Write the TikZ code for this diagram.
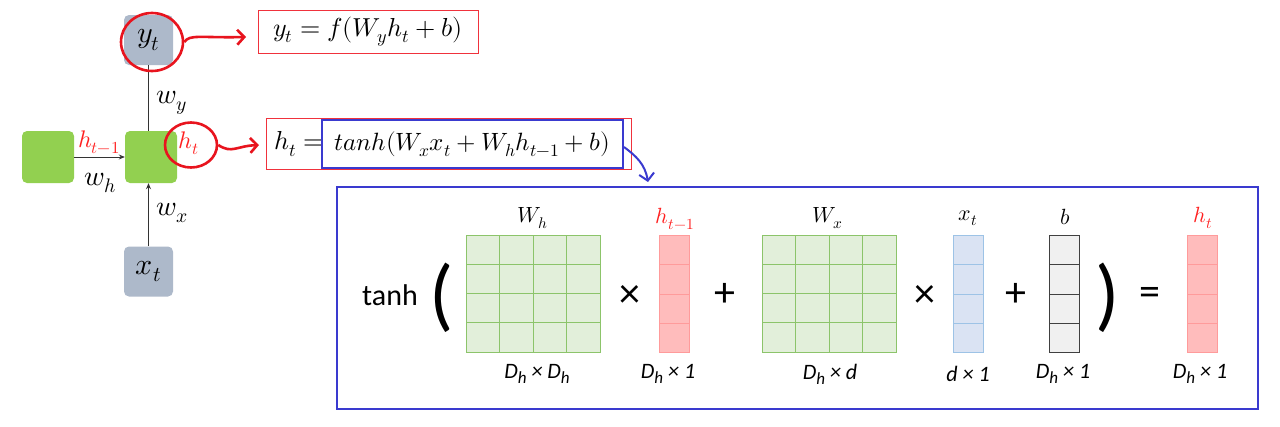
\documentclass[tikz,border=0pt]{standalone}
\usepackage{fontspec}
\usepackage{unicode-math}
\setmathfont{Latin Modern Math}
\newfontfamily\calfont{Carlito}
\usetikzlibrary{arrows.meta,calc,shapes.geometric}
\definecolor{nodegreen}{HTML}{92D050}
\definecolor{nodegray}{HTML}{ADB9CA}
\definecolor{matfill}{HTML}{E2EFDA}
\definecolor{matline}{HTML}{8CC46A}
\definecolor{redfill}{HTML}{FFBCBC}
\definecolor{redline}{HTML}{FF9B9B}
\definecolor{bluefill}{HTML}{DAE3F3}
\definecolor{blueline}{HTML}{9DC3E6}
\definecolor{grayfill}{HTML}{F0F0F0}
\definecolor{grayline}{HTML}{404040}
\definecolor{penred}{HTML}{E8141E}
\definecolor{penblue}{HTML}{3A3ACF}
\definecolor{boxred}{HTML}{F0323C}
\definecolor{labred}{HTML}{FF2020}
\newcommand\dimsub[1]{\raisebox{-0.45ex}{\fontsize{17}{17}\selectfont #1}}
\newcommand\dimlab[1]{{\calfont\itshape\fontsize{22}{24}\selectfont #1}}
\tikzset{
  px/.style={x=1pt,y=-1pt},
  gnode/.style={fill=nodegreen, rounded corners=5pt, minimum width=52pt, minimum height=52pt, inner sep=0pt},
  xnode/.style={fill=nodegray, rounded corners=5pt, minimum width=49pt, minimum height=50pt, inner sep=0pt, font=\fontsize{30}{34}\selectfont},
  lab/.style={font=\fontsize{28}{32}\selectfont, inner sep=0pt},
  wire/.style={draw=black!80, line width=0.9pt},
  tip/.style={-{Stealth[length=6pt,width=5pt]}},
  penc/.style={draw=penred, line width=2.6pt, ellipse, inner sep=0pt},
  pen/.style={line width=2.6pt, -{Straight Barb[length=7pt,width=15pt]}},
  grid4/.style 2 args={fill=#1, draw=#2, line width=1pt, inner sep=0pt, outer sep=0pt,
    path picture={
      \foreach \k in {1,2,3}{
        \draw[#2, line width=1pt] ($(path picture bounding box.north west)!\k/4!(path picture bounding box.south west)$) -- ($(path picture bounding box.north east)!\k/4!(path picture bounding box.south east)$);
        \draw[#2, line width=1pt] ($(path picture bounding box.north west)!\k/4!(path picture bounding box.north east)$) -- ($(path picture bounding box.south west)!\k/4!(path picture bounding box.south east)$);
      }}},
  vec4/.style 2 args={fill=#1, draw=#2, line width=1pt, inner sep=0pt, outer sep=0pt, minimum width=30pt, minimum height=117pt,
    path picture={
      \foreach \k in {1,2,3}{
        \draw[#2, line width=1pt] ($(path picture bounding box.north west)!\k/4!(path picture bounding box.south west)$) -- ($(path picture bounding box.north east)!\k/4!(path picture bounding box.south east)$);
      }}},
  mlab/.style={font=\fontsize{22}{24}\selectfont, inner sep=0pt},
  op/.style={font=\calfont\fontsize{30}{32}\selectfont, inner sep=0pt},
  sym/.style={font=\calfont\fontsize{42}{44}\selectfont, inner sep=0pt},
  bigp/.style={font=\calfont\fontsize{80}{82}\selectfont, inner sep=0pt},
  fbox/.style={draw=boxred, line width=1pt, inner sep=0pt, font=\fontsize{26}{30}\selectfont},
}
\begin{document}
\begin{tikzpicture}[px]
\useasboundingbox (0,0) rectangle (1280,426);
% left RNN diagram
\node[gnode] (hprev) at (48,157) {};
\node[gnode] (hcur) at (151,157) {};
\node[xnode] (y) at (148.5,40) {$y_t$};
\node[xnode] (x) at (148.5,271.5) {$x_t$};
\draw[wire,tip] (hprev.east) -- (hcur.west);
\draw[wire] (y.south) -- (y.south |- hcur.north);
\draw[wire,tip] (x.north) -- (x.north |- hcur.south);
\node[lab, text=labred, font=\fontsize{24}{28}\selectfont] (lhp) at (99,142) {$h_{t-1}$};
\node[lab] (lwh) at (100,183) {$w_h$};
\node[lab] (lwy) at (172,103) {$w_y$};
\node[lab] (lwx) at (172,213) {$w_x$};
\node[lab, text=labred, font=\fontsize{24}{28}\selectfont] (lht) at (189,143) {$h_t$};
\node[penc, minimum width=62pt, minimum height=58pt] (cy) at (152,42) {};
\node[penc, minimum width=52pt, minimum height=45pt] (ch) at (191,145) {};
% formulas
\node[fbox, minimum width=220pt, minimum height=43pt] (f1) at (368,31.5) {$y_t = f(W_y h_t + b)$};
\node[fbox, minimum width=365pt, minimum height=51pt] (f2) at (448.5,143.5) {};
\node[anchor=west, inner sep=0pt, font=\fontsize{26}{30}\selectfont] (f2l) at (274,144) {$h_t =$};
\node[draw=penblue, line width=2pt, inner sep=0pt, minimum width=301pt, minimum height=48pt, font=\fontsize{25}{30}\selectfont] (f2r) at (472.5,144) {$tanh(W_x x_t + W_h h_{t-1} + b)$};
% pen arrows
\coordinate (a1) at (246,37);
\coordinate (a2) at (259,145);
\coordinate (a3) at (648,182);
\draw[pen, penred] (cy.east) .. controls (190,34) and (200,38) .. (a1);
\draw[pen, penred] (ch.east) .. controls (232,154) and (236,146) .. (a2);
\draw[line width=2pt, penblue, -{Straight Barb[length=7pt,width=15pt]}] ([yshift=-3pt]f2r.east) .. controls (636,156) and (645,164) .. (a3);
% big box
\node[draw=penblue, line width=2pt, minimum width=921pt, minimum height=222pt, inner sep=0pt] (big) at (797.5,298) {};
\node[op] (tanh) at (390,295) {tanh};
\node[bigp] (lp) at (442,298) {(};
\node[grid4={matfill}{matline}, minimum width=134pt, minimum height=117pt] (Wh) at (533,293.5) {};
\node[mlab] (lWh) at (533,218) {$W_h$};
\node (dWh) at (537,374) {\dimlab{D\dimsub{h} × D\dimsub{h}}};
\node[sym] (m1) at (630,296) {×};
\node[vec4={redfill}{redline}] (hp) at (674,294) {};
\node[mlab, text=labred] (lhpv) at (675,219) {$h_{t-1}$};
\node (dhp) at (668,374) {\dimlab{D\dimsub{h} × 1}};
\node[sym] (p1) at (725,295) {+};
\node[grid4={matfill}{matline}, minimum width=134pt, minimum height=117pt] (Wx) at (829,293.5) {};
\node[mlab] (lWx) at (828,218) {$W_x$};
\node (dWx) at (830,374) {\dimlab{D\dimsub{h} × d}};
\node[sym] (m2) at (925,296) {×};
\node[vec4={bluefill}{blueline}] (xv) at (968.5,294) {};
\node[mlab] (lxv) at (968,218) {$x_t$};
\node (dxv) at (968,374) {\dimlab{d × 1}};
\node[sym] (p2) at (1016,295) {+};
\node[vec4={grayfill}{grayline}] (bv) at (1064,294) {};
\node[mlab] (lbv) at (1065,217) {$b$};
\node (dbv) at (1063,374) {\dimlab{D\dimsub{h} × 1}};
\node[bigp] (rp) at (1108,298) {)};
\node[sym] (eq) at (1150,296) {=};
\node[vec4={redfill}{redline}] (htv) at (1202.5,294) {};
\node[mlab, text=labred] (lhtv) at (1203,218) {$h_t$};
\node (dhtv) at (1200,374) {\dimlab{D\dimsub{h} × 1}};
\end{tikzpicture}
\end{document}
